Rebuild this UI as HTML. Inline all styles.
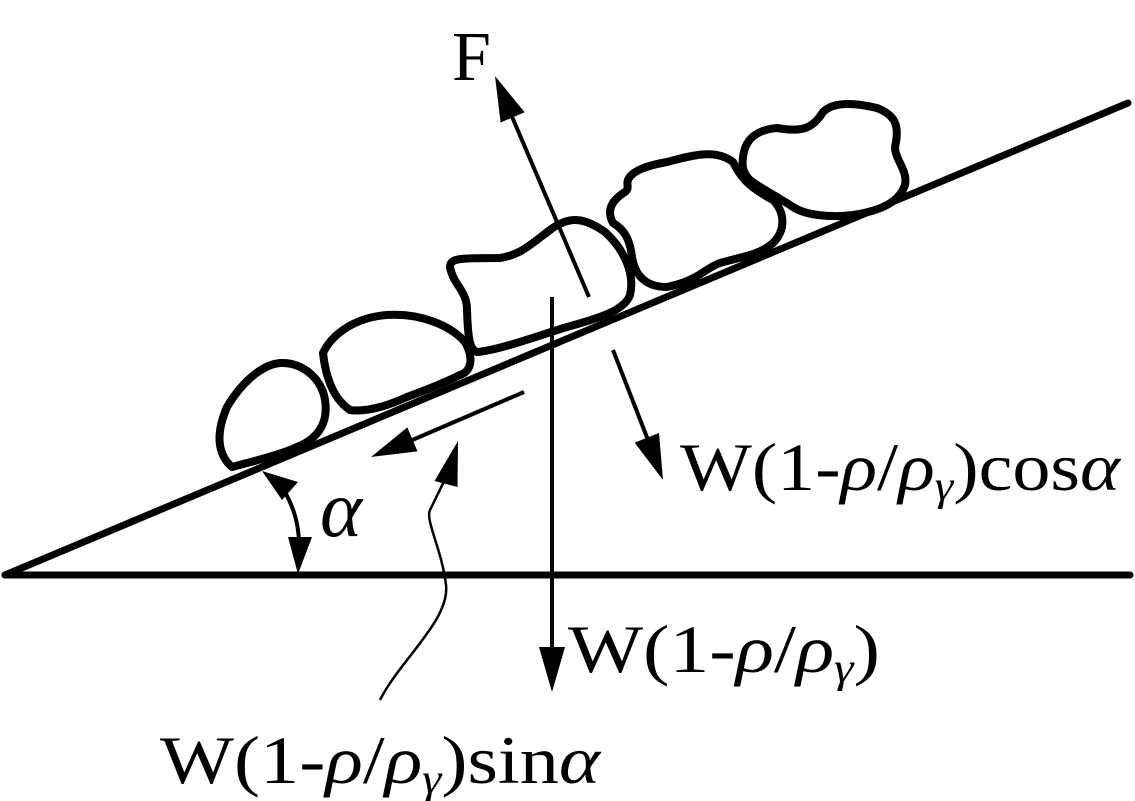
<!DOCTYPE html>
<html><head><style>body{margin:0;background:#fff}svg{display:block}text{font-family:"Liberation Serif",serif;fill:#000}</style></head><body>
<svg width="1135" height="801" viewBox="0 0 1135 801" xmlns="http://www.w3.org/2000/svg">
<g stroke="#000" stroke-width="7" fill="none" stroke-linecap="round">
<line x1="5" y1="575" x2="1130" y2="575"/>
<line x1="5" y1="575" x2="1128" y2="103"/>
</g>
<g stroke="#000" stroke-width="8" fill="#fff" stroke-linejoin="round">
<path d="M232,467 C218,455 215,435 227,407 C240,385 260,365 280,363 C300,362 318,375 324,395 C330,420 320,438 297,447 C280,455 250,462 232,467 Z"/>
<path d="M323,353 C330,338 350,318 387,315 C420,313 450,325 465,342 C475,360 470,372 460,375 C440,385 420,392 407,397 C385,407 365,412 350,410 C335,400 326,380 323,353 Z"/>
<path d="M450,267 C450,258 460,258 500,258 C520,255 530,245 550,230 C570,215 585,218 605,232 C625,250 635,275 630,295 C625,310 600,318 567,327 C540,335 500,350 477,352 C470,350 468,340 467,310 C467,290 453,285 450,267 Z"/>
<path d="M628,180 C632,170 650,165 667,162 C690,156 715,148 733,162 C740,175 745,185 773,200 C785,212 786,230 773,243 C760,255 740,257 720,263 C705,268 700,280 667,287 C645,287 635,275 632,257 C630,240 625,230 613,223 C606,210 612,200 625,192 C630,188 626,185 628,180 Z"/>
<path d="M743,157 C745,140 755,130 777,128 C800,132 812,130 823,112 C835,100 860,104 877,108 C895,115 900,125 895,147 C895,160 908,170 905,185 C900,200 885,210 853,215 C830,218 805,215 793,207 C780,198 760,188 750,180 C742,172 742,165 743,157 Z"/>
</g>
<g stroke="#000" stroke-width="4" fill="none">
<line x1="552" y1="297" x2="552" y2="650"/>
<line x1="589" y1="297" x2="510" y2="112"/>
<line x1="613" y1="350" x2="648" y2="440"/>
<line x1="524" y1="392" x2="410" y2="441"/>
<path d="M380,700 C400,660 450,620 446,585 C442,550 425,520 430,510 C440,490 444,480 446,480" stroke-width="2.5"/>
<path d="M285,492 C295,510 298,525 299,540"/>
</g>
<g stroke="none" fill="#000">
<polygon points="552,692 539,647 565,647"/>
<polygon points="495,76 524.6,112.3 500.6,122.5"/>
<polygon points="663,480 659,433 634.6,442.6"/>
<polygon points="371,457 417.5,451.4 407.3,427.4"/>
<polygon points="458,441 457.5,487 434.5,481"/>
<polygon points="262,471 298,482 282,500"/>
<polygon points="298,574 288,537 312,537"/>
</g>
<text x="452" y="80" font-size="70">F</text>
<text x="320" y="536" font-size="80" font-style="italic">α</text>
<text x="680" y="490" font-size="68" textLength="440" lengthAdjust="spacingAndGlyphs">W(1-<tspan font-style="italic">ρ</tspan>/<tspan font-style="italic">ρ</tspan><tspan font-size="42" font-style="italic" dy="10">γ</tspan><tspan dy="-10">)cos</tspan><tspan font-style="italic">α</tspan></text>
<text x="568" y="672" font-size="68" textLength="312" lengthAdjust="spacingAndGlyphs">W(1-<tspan font-style="italic">ρ</tspan>/<tspan font-style="italic">ρ</tspan><tspan font-size="42" font-style="italic" dy="10">γ</tspan><tspan dy="-10">)</tspan></text>
<text x="160" y="783" font-size="68" textLength="440" lengthAdjust="spacingAndGlyphs">W(1-<tspan font-style="italic">ρ</tspan>/<tspan font-style="italic">ρ</tspan><tspan font-size="42" font-style="italic" dy="10">γ</tspan><tspan dy="-10">)sin</tspan><tspan font-style="italic">α</tspan></text>
</svg>
</body></html>
